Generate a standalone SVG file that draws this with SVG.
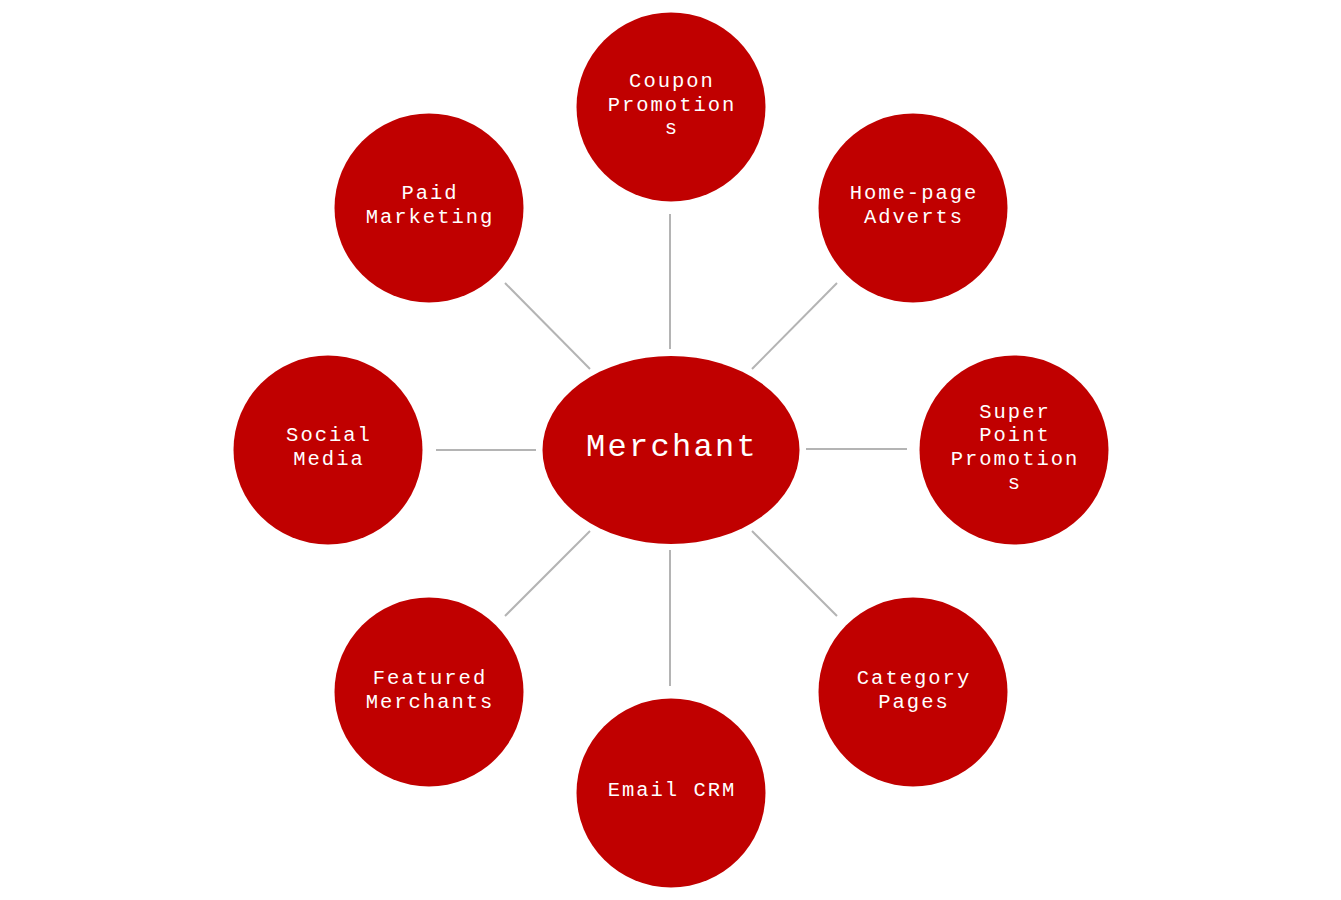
<svg xmlns="http://www.w3.org/2000/svg" width="1341" height="900" viewBox="0 0 1341 900">
<style>
.n{fill:#C00000}
.t{fill:#ffffff;font-family:"Liberation Mono","Courier New",monospace;font-size:20.5px;letter-spacing:2px;text-anchor:middle}
.m{font-size:32px;letter-spacing:2.3px}
.c{stroke:#b4b4b4;stroke-width:2;fill:none}
</style>
<rect width="1341" height="900" fill="#ffffff"/>
<g id="connectors">
<line class="c" x1="670" y1="214" x2="670" y2="349"/>
<line class="c" x1="752" y1="369" x2="837" y2="283"/>
<line class="c" x1="806" y1="449" x2="907" y2="449"/>
<line class="c" x1="752" y1="531" x2="837" y2="616"/>
<line class="c" x1="670" y1="550" x2="670" y2="686"/>
<line class="c" x1="590" y1="531" x2="505" y2="616"/>
<line class="c" x1="436" y1="450" x2="536" y2="450"/>
<line class="c" x1="590" y1="369" x2="505" y2="283"/>
</g>
<g id="merchant">
<ellipse class="n" cx="671" cy="450" rx="128.5" ry="94"/>
<text class="t m" x="672" y="456">Merchant</text>
</g>
<g id="coupon">
<circle class="n" cx="671" cy="107" r="94.5"/>
<text class="t" x="672" y="87">Coupon</text>
<text class="t" x="672" y="111">Promotion</text>
<text class="t" x="672" y="134">s</text>
</g>
<g id="homepage">
<circle class="n" cx="913" cy="208" r="94.5"/>
<text class="t" x="914" y="199">Home-page</text>
<text class="t" x="914" y="223">Adverts</text>
</g>
<g id="superpoint">
<circle class="n" cx="1014" cy="450" r="94.5"/>
<text class="t" x="1015" y="418">Super</text>
<text class="t" x="1015" y="441">Point</text>
<text class="t" x="1015" y="465">Promotion</text>
<text class="t" x="1015" y="489">s</text>
</g>
<g id="category">
<circle class="n" cx="913" cy="692" r="94.5"/>
<text class="t" x="914" y="684">Category</text>
<text class="t" x="914" y="708">Pages</text>
</g>
<g id="email">
<circle class="n" cx="671" cy="793" r="94.5"/>
<text class="t" x="672" y="796">Email CRM</text>
</g>
<g id="featured">
<circle class="n" cx="429" cy="692" r="94.5"/>
<text class="t" x="430" y="684">Featured</text>
<text class="t" x="430" y="708">Merchants</text>
</g>
<g id="social">
<circle class="n" cx="328" cy="450" r="94.5"/>
<text class="t" x="329" y="441">Social</text>
<text class="t" x="329" y="465">Media</text>
</g>
<g id="paid">
<circle class="n" cx="429" cy="208" r="94.5"/>
<text class="t" x="430" y="199">Paid</text>
<text class="t" x="430" y="223">Marketing</text>
</g>
</svg>
